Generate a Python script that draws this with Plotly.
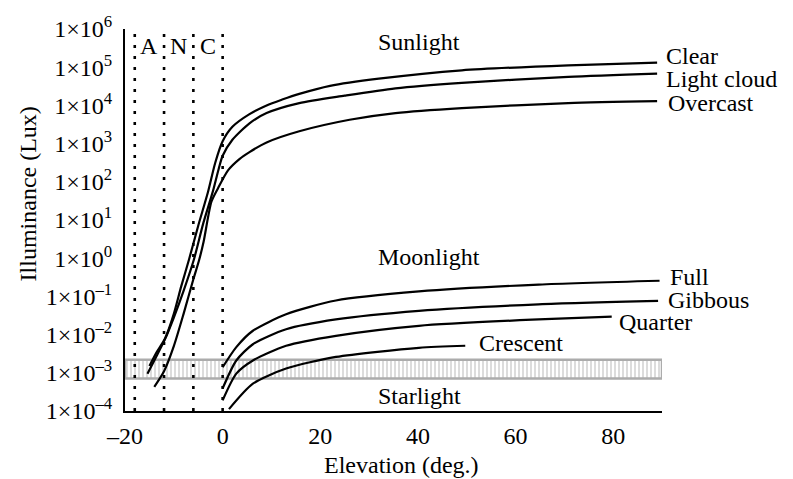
import plotly.graph_objects as go

# ---------------- data (elevation in degrees, illuminance in lux) ----------------
clear_elev = [-15.0, -13.5, -11.8, -10.0, -8.5, -6.9, -5.0, -3.0, -1.5, 0.0, 2.0, 5.5, 9.0, 12.2, 15.7, 22.0, 32.0, 49.0, 70.8, 89.0]
clear_lux = [1.5e-3, 3.5e-3, 7.9e-3, 3.5e-2, 1.8e-1, 9.1e-1, 7.1e0, 5.4e1, 3.2e2, 1.15e3, 2.75e3, 5.9e3, 1.0e4, 1.42e4, 2.0e4, 3.25e4, 5.0e4, 8.3e4, 1.12e5, 1.32e5]

lcloud_elev = [-15.4, -13.5, -11.8, -10.0, -8.0, -5.9, -4.0, -2.0, -0.8, 0.0, 2.0, 5.5, 9.0, 15.7, 25.0, 35.4, 49.0, 70.8, 89.0]
lcloud_lux = [9.5e-4, 2.8e-3, 7.6e-3, 2.8e-2, 1.4e-1, 9.1e-1, 7.9e0, 5.6e1, 2.2e2, 4.8e2, 1.26e3, 3.4e3, 6.3e3, 1.15e4, 1.8e4, 2.8e4, 3.9e4, 5.6e4, 6.8e4]

overcast_elev = [-14.0, -12.0, -10.0, -8.0, -6.0, -4.8, -3.9, -2.3, -0.95, 1.1, 3.5, 5.5, 9.0, 15.7, 26.0, 35.4, 49.0, 70.8, 89.0]
overcast_lux = [4.3e-4, 1.1e-3, 5.0e-3, 3.5e-2, 2.8e-1, 9.1e-1, 2.7e0, 3.0e1, 6.8e1, 2.0e2, 4.0e2, 6.0e2, 1.07e3, 2.1e3, 4.2e3, 6.3e3, 8.5e3, 1.15e4, 1.29e4]

full_elev = [0.0, 2.8, 6.2, 13.0, 23.2, 40.2, 64.7, 89.5]
full_lux = [1.4e-3, 4.7e-3, 1.26e-2, 3.4e-2, 7.8e-2, 1.35e-1, 2.04e-1, 2.57e-1]

gibbous_elev = [0.0, 2.8, 6.2, 13.0, 23.2, 40.2, 64.7, 89.2]
gibbous_lux = [3.9e-4, 2.1e-3, 5.6e-3, 1.38e-2, 2.5e-2, 4.2e-2, 6.2e-2, 7.6e-2]

quarter_elev = [0.0, 2.8, 6.2, 13.0, 23.2, 40.2, 64.7, 79.7]
quarter_lux = [1.9e-4, 9.5e-4, 2.1e-3, 5.1e-3, 9.3e-3, 1.7e-2, 2.5e-2, 2.95e-2]

crescent_elev = [1.3, 6.2, 13.0, 23.2, 40.2, 49.7]
crescent_lux = [1.12e-4, 5.2e-4, 1.29e-3, 2.6e-3, 4.5e-3, 5.1e-3]

starlight_band = [7.1e-4, 2.2e-3]      # lux, lower / upper edge of the starlight band
twilight_bounds = [-18, -12, -6, 0]     # astronomical / nautical / civil twilight limits
twilight_labels = ["A", "N", "C"]

x_range = [-20, 90]
x_tickvals = [-20, 0, 20, 40, 60, 80]
x_ticktext = ["\u201320", "0", "20", "40", "60", "80"]
y_exponents = [-4, -3, -2, -1, 0, 1, 2, 3, 4, 5, 6]

# ---------------- figure ----------------
FONT = "Liberation Serif"
FS = 24
fig = go.Figure()

# starlight band (hatched)
fig.add_trace(go.Scatter(
    x=[x_range[0], x_range[1], x_range[1], x_range[0], x_range[0]],
    y=[starlight_band[0], starlight_band[0], starlight_band[1], starlight_band[1], starlight_band[0]],
    mode="lines", fill="toself",
    line=dict(color="#acacac", width=2.5),
    fillcolor="rgba(0,0,0,0)",
    fillpattern=dict(shape="|", fgcolor="#bababa", bgcolor="white", size=4, solidity=0.5),
    hoverinfo="skip", showlegend=False,
))

for xs, ys in [(clear_elev, clear_lux), (lcloud_elev, lcloud_lux), (overcast_elev, overcast_lux),
               (full_elev, full_lux), (gibbous_elev, gibbous_lux), (quarter_elev, quarter_lux),
               (crescent_elev, crescent_lux)]:
    fig.add_trace(go.Scatter(x=xs, y=ys, mode="lines",
                             line=dict(color="black", width=2.2, shape="spline", smoothing=0.7),
                             showlegend=False, hoverinfo="skip"))

# twilight boundaries
for b in twilight_bounds:
    fig.add_shape(type="line", x0=b, x1=b, xref="x", y0=0, y1=1, yref="paper",
                  line=dict(color="black", width=2.6, dash="3px,8px"))


def xpaper(e):
    return (e - x_range[0]) / (x_range[1] - x_range[0])


annotations = []
for lab, (a, b) in zip(twilight_labels, zip(twilight_bounds[:-1], twilight_bounds[1:])):
    annotations.append(dict(x=(a + b) / 2, y=5.56, xref="x", yref="y", text=lab,
                            showarrow=False, xanchor="center", yanchor="middle"))

region_labels = [("Sunlight", 5.66), ("Moonlight", 0.04), ("Starlight", -3.61)]
for t, ly in region_labels:
    annotations.append(dict(x=31.4, y=ly, xref="x", yref="y", text=t, showarrow=False,
                            xanchor="left", yanchor="middle"))

curve_labels = [("Clear", 90.4, 5.30), ("Light cloud", 90.4, 4.70), ("Overcast", 90.8, 4.06),
                ("Full", 91.2, -0.50), ("Gibbous", 90.8, -1.10), ("Quarter", 80.8, -1.67),
                ("Crescent", 52.2, -2.21)]
for t, lx, ly in curve_labels:
    annotations.append(dict(x=xpaper(lx), y=ly, xref="paper", yref="y", text=t, showarrow=False,
                            xanchor="left", yanchor="middle"))

annotations.append(dict(x=-0.1806, y=0.567, xref="paper", yref="paper", text="Illuminance (Lux)",
                        textangle=-90, showarrow=False, xanchor="center", yanchor="middle"))
annotations.append(dict(x=0.514, y=-0.1425, xref="paper", yref="paper", text="Elevation (deg.)",
                        showarrow=False, xanchor="center", yanchor="middle"))

fig.update_layout(
    width=793, height=479,
    margin=dict(l=125, r=131, t=25, b=68),
    paper_bgcolor="white", plot_bgcolor="white",
    font=dict(family=FONT, size=FS, color="black"),
    annotations=annotations,
    showlegend=False,
)
fig.update_xaxes(range=x_range, showgrid=False, zeroline=False,
                 showline=True, linecolor="black", linewidth=2,
                 tickvals=x_tickvals, ticktext=x_ticktext, ticks="",
                 ticklabelstandoff=2, tickfont=dict(family=FONT, size=FS))
fig.update_yaxes(type="log", range=[-4, 6], showgrid=False, zeroline=False,
                 showline=True, linecolor="black", linewidth=2,
                 tickvals=[10.0 ** e for e in y_exponents],
                 ticktext=["1\u00d710<sup>%s</sup>" % (str(e).replace("-", "\u2013")) for e in y_exponents],
                 ticks="", ticklabelstandoff=6, tickfont=dict(family=FONT, size=FS))

fig.write_html("out.html", config={"displayModeBar": False},
               post_script="document.body.style.margin='0px';")
